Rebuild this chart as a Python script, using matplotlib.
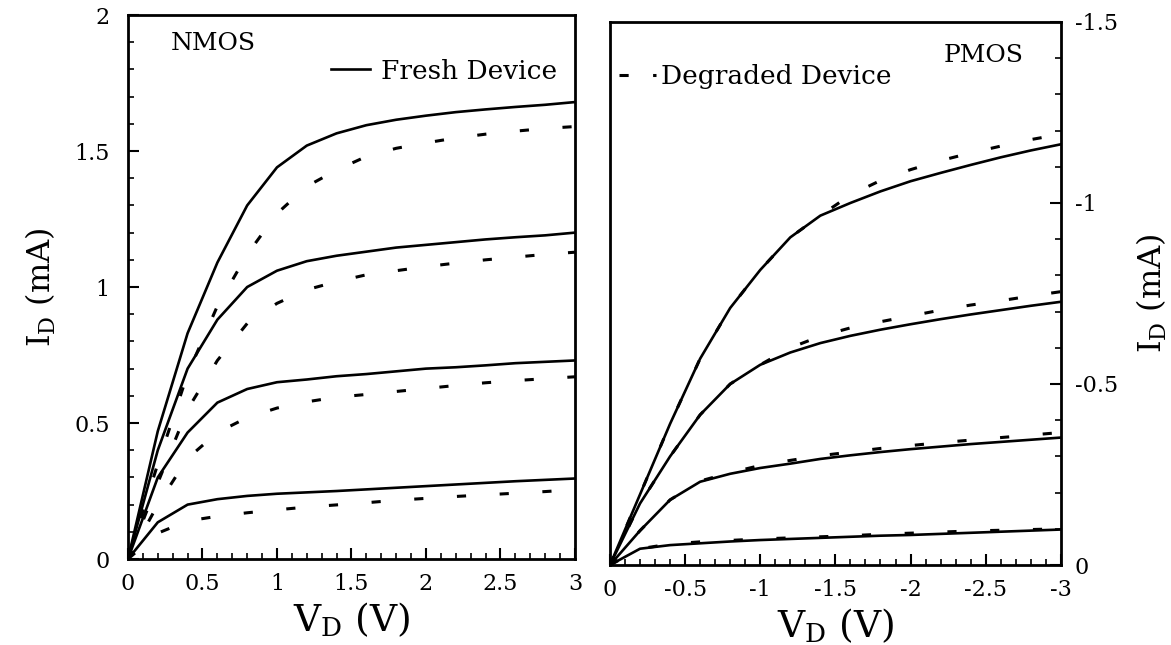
import matplotlib
matplotlib.use("Agg")
import matplotlib.pyplot as plt
from matplotlib.ticker import MultipleLocator, FormatStrFormatter
from matplotlib.lines import Line2D

plt.rcParams['font.family'] = ['DejaVu Serif']
plt.rcParams['mathtext.fontset'] = 'dejavuserif'
plt.rcParams['axes.unicode_minus'] = False

# drain voltage sweep (V)
vd_n = [0, 0.2, 0.4, 0.6, 0.8, 1.0, 1.2, 1.4, 1.6, 1.8, 2.0, 2.2, 2.4, 2.6, 2.8, 3.0]
vd_p = [0, -0.2, -0.4, -0.6, -0.8, -1.0, -1.2, -1.4, -1.6, -1.8, -2.0, -2.2, -2.4, -2.6, -2.8, -3.0]

# NMOS drain current (mA), one row per gate bias
nmos_fresh = [
    [0, 0.47, 0.83, 1.09, 1.30, 1.44, 1.52, 1.565, 1.595, 1.615, 1.63, 1.643, 1.653, 1.662, 1.67, 1.68],
    [0, 0.40, 0.70, 0.88, 1.00, 1.06, 1.095, 1.115, 1.13, 1.145, 1.155, 1.165, 1.175, 1.183, 1.19, 1.20],
    [0, 0.30, 0.465, 0.575, 0.625, 0.65, 0.66, 0.672, 0.68, 0.69, 0.70, 0.705, 0.712, 0.72, 0.725, 0.73],
    [0, 0.135, 0.20, 0.22, 0.232, 0.24, 0.245, 0.25, 0.256, 0.262, 0.268, 0.274, 0.28, 0.286, 0.291, 0.296],
]
nmos_degraded = [
    [0, 0.35, 0.68, 0.93, 1.12, 1.27, 1.37, 1.43, 1.48, 1.51, 1.53, 1.548, 1.562, 1.573, 1.583, 1.59],
    [0, 0.28, 0.55, 0.73, 0.866, 0.94, 0.99, 1.02, 1.045, 1.06, 1.075, 1.088, 1.10, 1.11, 1.12, 1.128],
    [0, 0.20, 0.37, 0.465, 0.52, 0.555, 0.578, 0.595, 0.605, 0.616, 0.627, 0.638, 0.648, 0.656, 0.663, 0.67],
    [0, 0.095, 0.14, 0.157, 0.17, 0.181, 0.191, 0.199, 0.207, 0.216, 0.223, 0.23, 0.236, 0.242, 0.248, 0.255],
]

# PMOS drain current (mA)
pmos_fresh = [
    [0, -0.195, -0.39, -0.57, -0.71, -0.815, -0.905, -0.965, -1.0, -1.032, -1.06, -1.083, -1.105, -1.126, -1.145, -1.162],
    [0, -0.17, -0.30, -0.415, -0.50, -0.553, -0.587, -0.613, -0.633, -0.65, -0.665, -0.679, -0.692, -0.704, -0.716, -0.727],
    [0, -0.095, -0.18, -0.23, -0.252, -0.268, -0.28, -0.293, -0.303, -0.312, -0.32, -0.327, -0.334, -0.34, -0.346, -0.352],
    [0, -0.045, -0.055, -0.06, -0.065, -0.069, -0.072, -0.075, -0.078, -0.081, -0.083, -0.086, -0.089, -0.092, -0.095, -0.098],
]
pmos_degraded = [
    [0, -0.195, -0.39, -0.57, -0.71, -0.815, -0.905, -0.965, -1.022, -1.062, -1.092, -1.117, -1.138, -1.157, -1.175, -1.19],
    [0, -0.17, -0.30, -0.415, -0.50, -0.553, -0.60, -0.632, -0.655, -0.672, -0.688, -0.704, -0.718, -0.73, -0.743, -0.755],
    [0, -0.095, -0.18, -0.232, -0.255, -0.275, -0.289, -0.302, -0.312, -0.322, -0.33, -0.338, -0.345, -0.352, -0.359, -0.366],
    [0, -0.045, -0.058, -0.064, -0.068, -0.072, -0.075, -0.078, -0.081, -0.085, -0.088, -0.091, -0.094, -0.096, -0.098, -0.10],
]

dash = (0, (3, 11))

fig = plt.figure(figsize=(11.71, 6.45), dpi=100)
ax1 = fig.add_axes([0.1093, 0.1333, 0.3817, 0.8434])
ax2 = fig.add_axes([0.5209, 0.124, 0.385, 0.842])

for ys in nmos_fresh:
    ax1.plot(vd_n, ys, color='black', lw=1.9, solid_joinstyle='miter')
for ys in nmos_degraded:
    ax1.plot(vd_n, ys, color='black', lw=2.2, linestyle=dash, dash_capstyle='butt')
for ys in pmos_fresh:
    ax2.plot(vd_p, ys, color='black', lw=1.9)
for ys in pmos_degraded:
    ax2.plot(vd_p, ys, color='black', lw=2.2, linestyle=dash, dash_capstyle='butt')

ax1.set_xlim(0, 3)
ax1.set_ylim(0, 2)
ax2.set_xlim(0, -3)
ax2.set_ylim(0, -1.5)

for ax in (ax1, ax2):
    ax.xaxis.set_major_locator(MultipleLocator(0.5))
    ax.xaxis.set_minor_locator(MultipleLocator(0.1))
    ax.yaxis.set_major_locator(MultipleLocator(0.5))
    ax.yaxis.set_minor_locator(MultipleLocator(0.1))
    ax.xaxis.set_major_formatter(FormatStrFormatter('%g'))
    ax.yaxis.set_major_formatter(FormatStrFormatter('%g'))
    ax.tick_params(which='major', direction='in', length=8, width=1.5, labelsize=16)
    ax.tick_params(which='minor', direction='in', length=4, width=1.2)
    ax.tick_params(axis='x', which='major', pad=10)
    for s in ax.spines.values():
        s.set_linewidth(2)
    ax.set_xlabel(r'V$_{\mathrm{D}}$ (V)', fontsize=27, labelpad=4)

ax1.tick_params(which='both', left=True, right=False, top=False)
ax1.tick_params(axis='y', which='major', pad=13)
ax1.set_ylabel(r'I$_{\mathrm{D}}$ (mA)', fontsize=23, labelpad=12)

ax2.yaxis.tick_right()
ax2.yaxis.set_label_position('right')
ax2.tick_params(which='both', left=False, top=False)
ax2.tick_params(axis='y', which='major', pad=10)
ax2.set_ylabel(r'I$_{\mathrm{D}}$ (mA)', fontsize=23, labelpad=12)

ax1.text(0.096, 0.947, 'NMOS', transform=ax1.transAxes, fontsize=18, va='center', ha='left')
ax2.text(0.918, 0.939, 'PMOS', transform=ax2.transAxes, fontsize=18, va='center', ha='right')

h_fresh = Line2D([], [], color='black', lw=1.9)
h_deg = Line2D([], [], color='black', lw=2.2, linestyle=(0, (3, 8)))
ax1.legend([h_fresh], ['Fresh Device'], loc='center right', bbox_to_anchor=(0.96, 0.897),
           frameon=False, fontsize=19, handlelength=1.5, handletextpad=0.4, borderpad=0, borderaxespad=0)
ax2.legend([h_deg], ['Degraded Device'], loc='center left', bbox_to_anchor=(0.02, 0.899),
           frameon=False, fontsize=19, handlelength=1.4, handletextpad=0.2, borderpad=0, borderaxespad=0)

fig.savefig('out.png', dpi=100)
